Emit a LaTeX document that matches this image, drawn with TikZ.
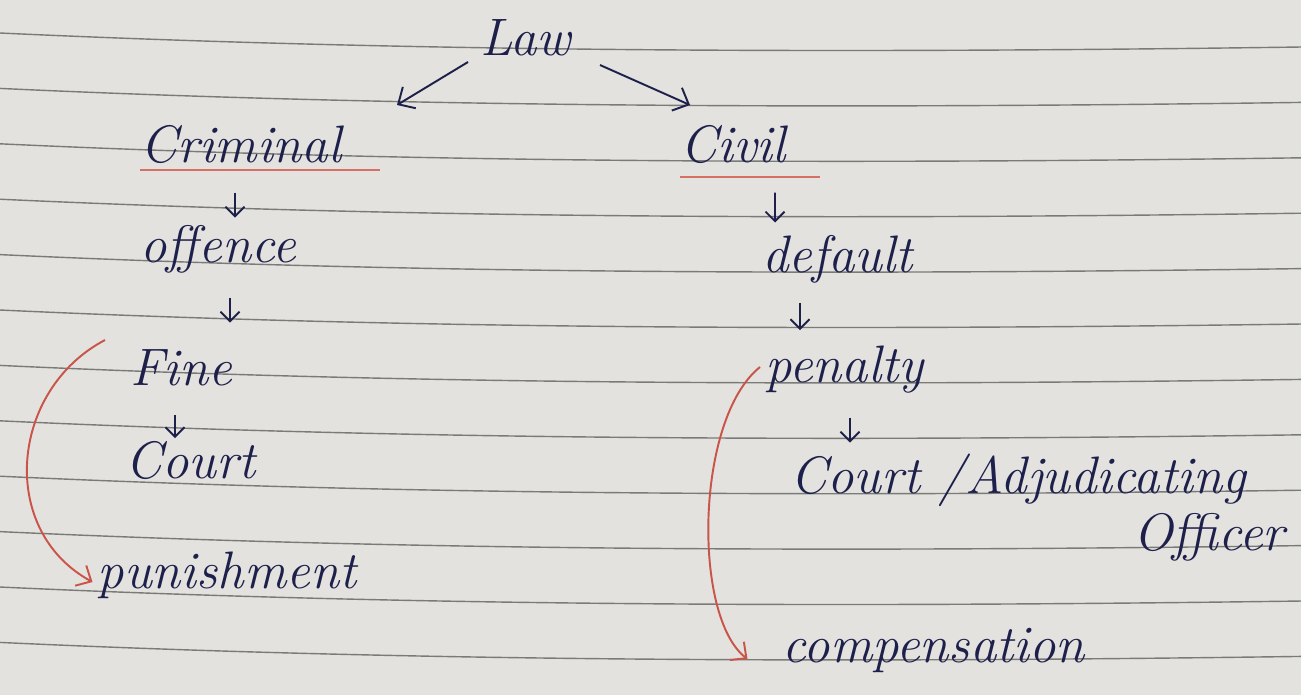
\documentclass[tikz,border=0pt]{standalone}
\usepackage{fontspec}
\usepackage{tikz}
\usetikzlibrary{arrows.meta,calc}
\definecolor{paper}{RGB}{227,226,222}
\definecolor{ruling}{RGB}{122,122,120}
\definecolor{ink}{RGB}{30,32,76}
\definecolor{redpen}{RGB}{201,84,74}
\definecolor{redunder}{RGB}{214,112,100}

\tikzset{
  hand/.style={text=ink, inner sep=0pt, anchor=base west, font=\fontsize{30}{34}\selectfont\itshape},
  rule/.style={draw=ruling, line width=0.8pt},
  branch/.style={draw=ink, line width=1.1pt, -{Straight Barb[length=2.6mm,width=5mm]}},
  dn/.style 2 args={draw=ink, line width=1.1pt, -{Straight Barb[length=1.9mm,width=3.8mm]}, shorten <=#1, shorten >=#2},
  redline/.style={draw=redunder, line width=1.3pt},
  redarrow/.style={draw=redpen, line width=1.1pt, -{Straight Barb[length=2.4mm,width=4.6mm]}}
}

\begin{document}
\begin{tikzpicture}
\fill[paper] (0,0) rectangle (26.02,-13.9);
\useasboundingbox (0,0) rectangle (26.02,-13.9);

% ruled lines of the page
\foreach \i in {0,...,11}{
  \pgfmathsetmacro{\ry}{-0.66-1.108*\i}
  \draw[rule] (0,\ry) .. controls (8.6,\ry-0.4) and (17.4,\ry-0.4) .. (26.02,\ry-0.28);
}

\node[hand] (law) at (9.6,-1.1) {Law};
\node[hand] (criminal) at (2.8,-3.24) {Criminal};
\node[hand] (civil) at (13.6,-3.24) {Civil};
\node[hand] (offence) at (2.8,-5.24) {offence};
\node[hand] (default) at (15.24,-5.44) {default};
\node[hand] (fine) at (2.6,-7.7) {Fine};
\node[hand] (penalty) at (15.3,-7.64) {penalty};
\node[hand] (courtL) at (2.5,-9.56) {Court};
\node[hand] (adjudicating) at (15.8,-9.86) {Court /Adjudicating};
\node[hand, anchor=base east] (officer) at (25.7,-11.0) {Officer};
\node[hand] (punishment) at (1.95,-11.76) {punishment};
\node[hand] (compensation) at (15.65,-13.24) {compensation};

% underlines
\draw[redline] ([yshift=-0.16cm]criminal.base west) -- ([xshift=4.8cm,yshift=-0.16cm]criminal.base west);
\draw[redline] ([yshift=-0.3cm]civil.base west) -- ([xshift=2.8cm,yshift=-0.3cm]civil.base west);

\draw[branch] ([xshift=-0.24cm,yshift=-0.14cm]law.base west) -- ([xshift=5.14cm,yshift=1.14cm]criminal.base west);
\draw[branch] ([xshift=2.4cm,yshift=-0.2cm]law.base west) -- ([xshift=0.2cm,yshift=1.14cm]civil.base west);

\draw[dn={0.61cm}{0.89cm}] ([xshift=1.9cm]criminal.base west) -- ([xshift=1.9cm]offence.base west);
\draw[dn={0.71cm}{1.25cm}] ([xshift=1.8cm]offence.base west) -- ([xshift=2.0cm]fine.base west);
\draw[dn={0.6cm}{0.8cm}] ([xshift=0.9cm]fine.base west) -- ([xshift=1.0cm]courtL.base west);
\draw[dn={0.61cm}{0.99cm}] ([xshift=1.9cm]civil.base west) -- ([xshift=0.26cm]default.base west);
\draw[dn={0.61cm}{1.04cm}] ([xshift=0.76cm]default.base west) -- ([xshift=0.7cm]penalty.base west);
\draw[dn={0.71cm}{1.01cm}] ([xshift=1.7cm]penalty.base west) -- ([xshift=1.2cm]adjudicating.base west);

% red brackets
\draw[redarrow] ([xshift=-0.5cm,yshift=0.9cm]fine.base west) .. controls +(-1.9,-1.0) and +(-1.9,1.04) .. ([xshift=-0.1cm,yshift=0.12cm]punishment.base west);
\draw[redarrow] ([xshift=-0.1cm,yshift=0.3cm]penalty.base west) .. controls +(-1.3,-1.04) and +(-1.1,0.84) .. ([xshift=-0.7cm,yshift=0.06cm]compensation.base west);
\end{tikzpicture}
\end{document}
